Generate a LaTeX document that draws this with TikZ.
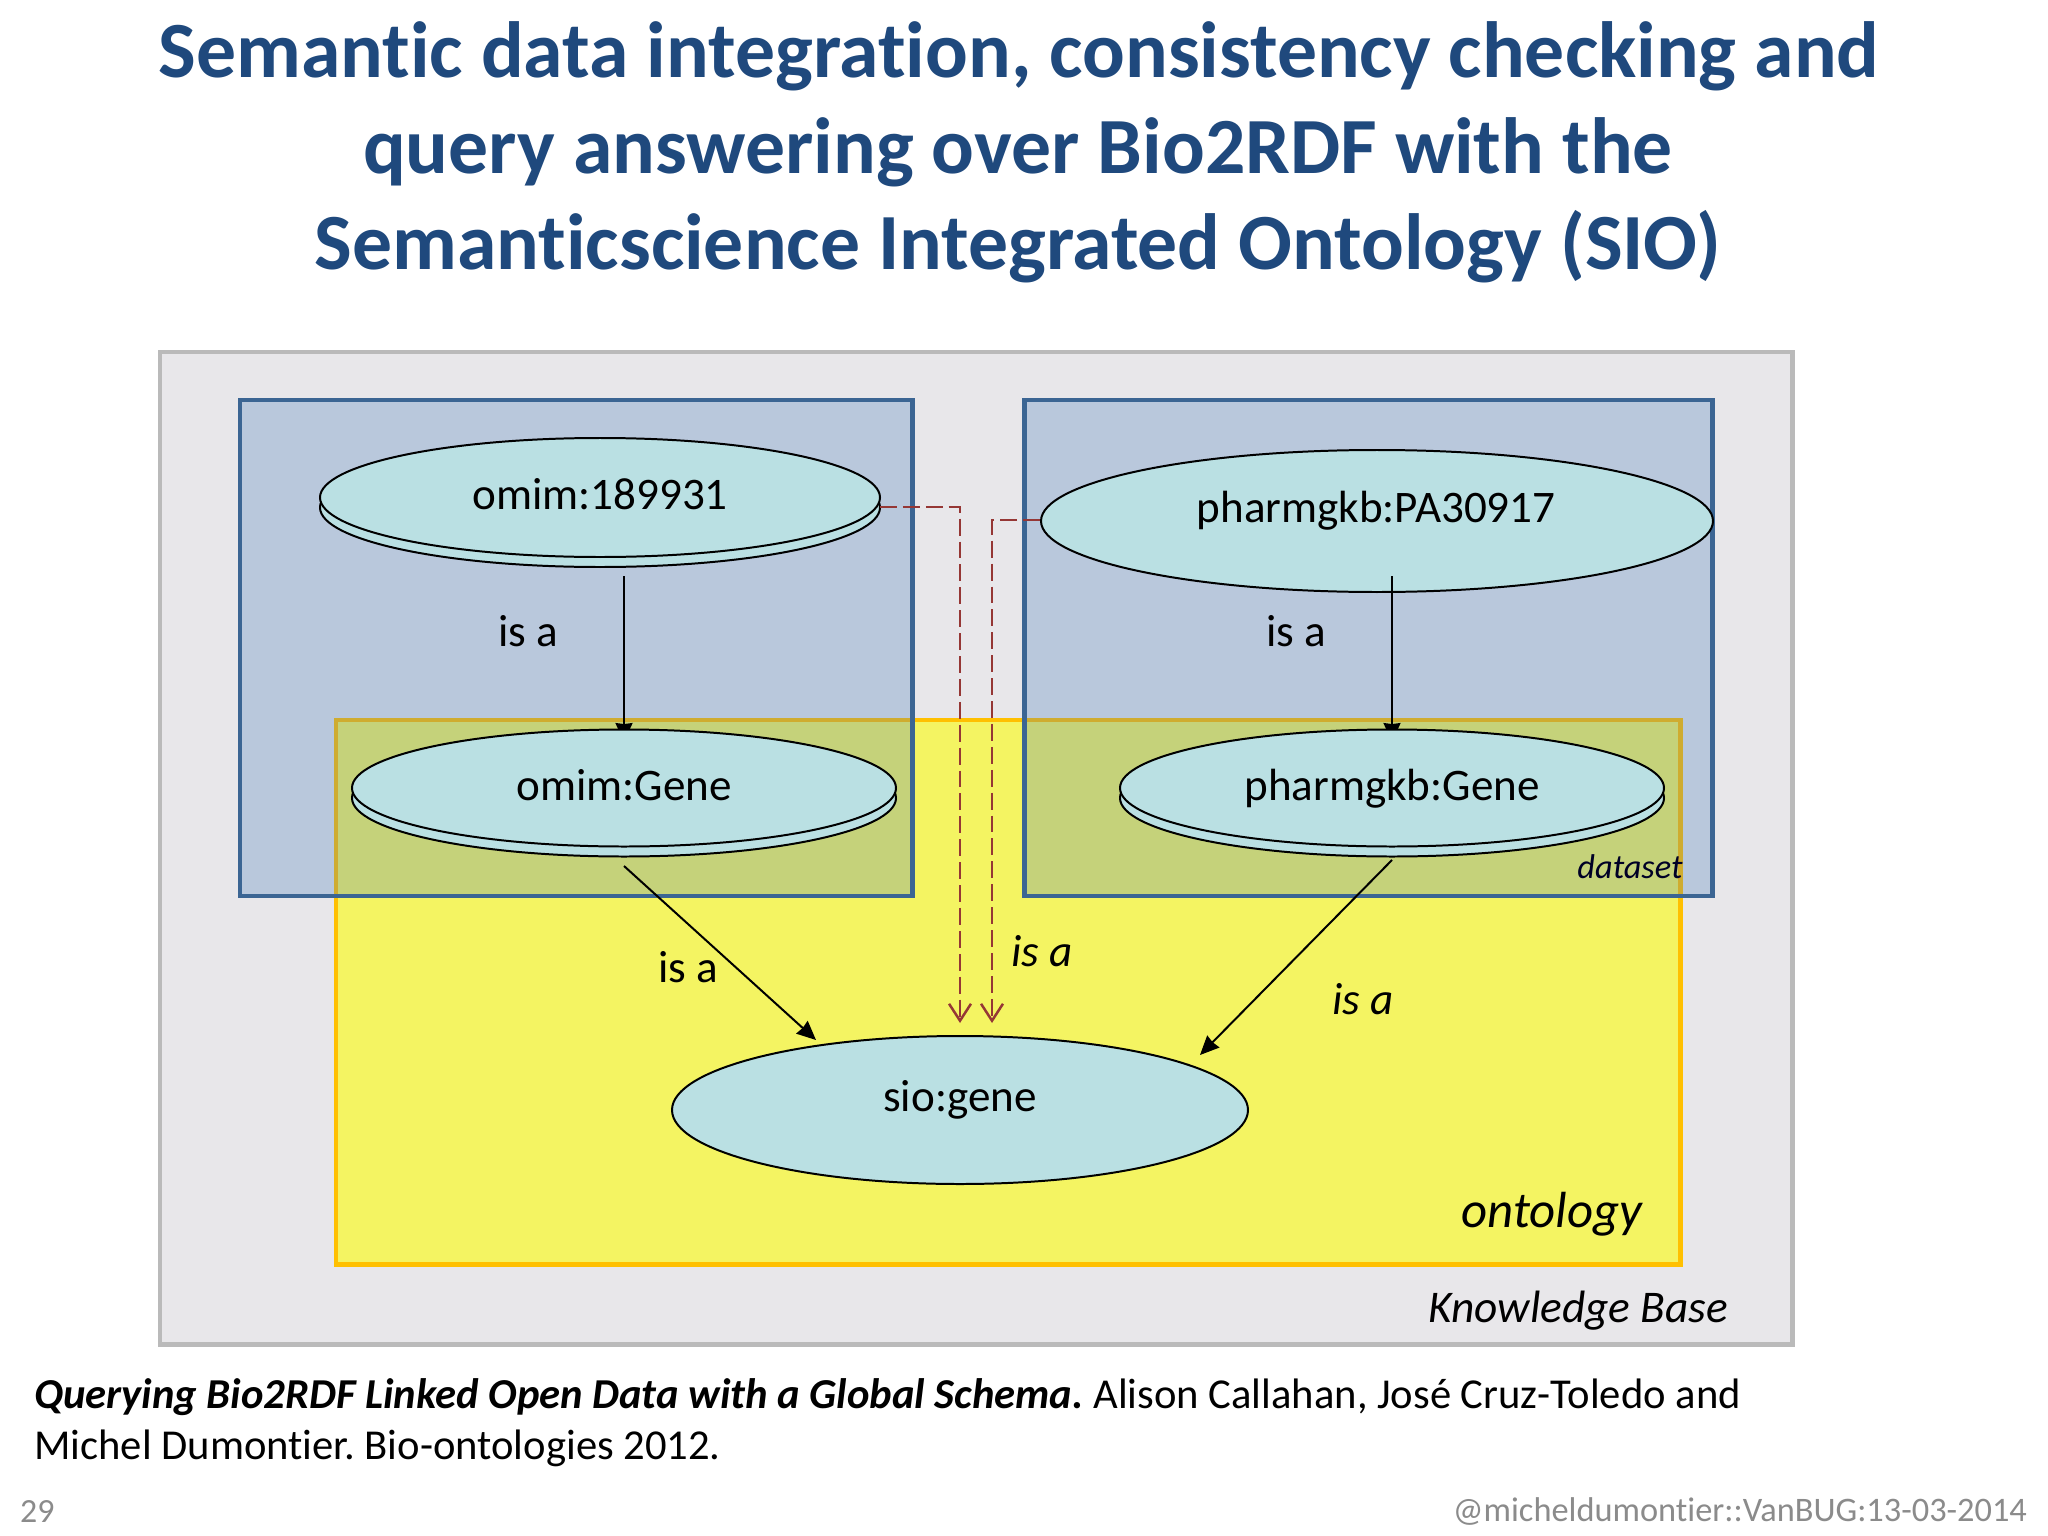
\documentclass[tikz,border=0pt]{standalone}
\usepackage{fontspec}
\setmainfont[Ligatures=NoCommon]{Carlito}
\usetikzlibrary{arrows.meta}
\definecolor{titleblue}{HTML}{1F497D}
\definecolor{kbfill}{HTML}{E8E7EA}
\definecolor{kbline}{HTML}{BABABA}
\definecolor{dsfill}{HTML}{B9C8DC}
\definecolor{dsline}{HTML}{3B6593}
\definecolor{ontfill}{HTML}{F4F462}
\definecolor{ontline}{HTML}{FFC000}
\definecolor{ontdark}{HTML}{CFAC30}
\definecolor{overlap}{HTML}{C5D27A}
\definecolor{ellfill}{HTML}{BAE0E3}
\definecolor{mapred}{HTML}{953735}
\definecolor{greytext}{HTML}{8B8B8B}
\tikzset{x=0.0353cm,y=-0.0353cm,
  lbl/.style={inner sep=0pt,font=\fontsize{45.3pt}{54pt}\selectfont},
  islbl/.style={inner sep=0pt,font=\fontsize{45.3pt}{54pt}\itshape\selectfont},
  ell/.style={draw=black,fill=ellfill,line width=2pt},
  ttl/.style={inner sep=0pt,text=titleblue,font=\fontsize{80pt}{96pt}\bfseries\selectfont},
  isa/.style={draw=black,line width=2pt,-{Stealth[length=19pt,width=17pt,inset=1pt]}},
  mapl/.style={draw=mapred,line width=2.5pt,dash pattern=on 17pt off 6pt,-{Straight Barb[length=17pt,width=22pt]}}
}
\begin{document}
\begin{tikzpicture}
\useasboundingbox (0,0) rectangle (2048,1536);
\fill[white] (0,0) rectangle (2048,1536);
\node[ttl] (t1) at (1019,56) {Semantic data integration, consistency checking and};
\node[ttl] (t2) at (1018,152) {query answering over Bio2RDF with the};
\node[ttl] (t3) at (1018,247) {Semanticscience Integrated Ontology (SIO)};
\draw[draw=kbline,fill=kbfill,line width=5pt] (160,352) rectangle (1792,1344);
\draw[draw=ontline,fill=ontfill,line width=5pt] (336,720) rectangle (1680,1264);
\fill[dsfill] (240,400) rectangle (912,896);
\fill[dsfill] (1024,400) rectangle (1712,896);
\fill[overlap] (336,720) rectangle (912,896);
\fill[overlap] (1024,720) rectangle (1680,896);
\draw[ontdark,line width=5pt] (912,720) -- (336,720) -- (336,896);
\draw[ontdark,line width=5pt] (1024,720) -- (1680,720) -- (1680,896);
\draw[dsline,line width=5pt] (240,400) rectangle (912,896);
\draw[dsline,line width=5pt] (1024,400) rectangle (1712,896);
% connectors and ellipses, in the reference's stacking order
\coordinate (a1) at (624,576);
\coordinate (a2) at (624,742);
\coordinate (b1) at (1392,576);
\coordinate (b2) at (1392,742);
\coordinate (c1) at (624,866);
\coordinate (c2) at (816,1040);
\coordinate (d1) at (1392,860);
\coordinate (d2) at (1200,1055);
\draw[ell] (600,507.5) ellipse [x radius=280,y radius=59.5];
\draw[ell] (600,497.5) ellipse [x radius=280,y radius=59.5];
\node[lbl] (n1) at (600,494) {omim:189931};
\draw[ell] (1377,521) ellipse [x radius=336,y radius=71];
\node[lbl] (n4) at (1376,511) {pharmgkb:PA30917};
\draw[isa] (a1) -- (a2);
\draw[isa] (b1) -- (b2);
\draw[ell] (624,798) ellipse [x radius=272,y radius=58.5];
\draw[ell] (624,788) ellipse [x radius=272,y radius=58.5];
\node[lbl] (n2) at (624,785) {omim:Gene};
\draw[ell] (1392,798) ellipse [x radius=272,y radius=58.5];
\draw[ell] (1392,788) ellipse [x radius=272,y radius=58.5];
\node[lbl] (n3) at (1392,789) {pharmgkb:Gene};
\draw[ell] (960,1110) ellipse [x radius=288,y radius=74];
\node[lbl] (n5) at (960,1100) {sio:gene};
\draw[isa] (c1) -- (c2);
\draw[isa] (d1) -- (d2);
\coordinate (m1) at (880,507);
\coordinate (m1b) at (960,507);
\coordinate (m1c) at (960,1023);
\coordinate (m2) at (1040,520);
\coordinate (m2b) at (992,520);
\coordinate (m2c) at (992,1023);
\draw[mapl] (m1) -- (m1b) -- (m1c);
\draw[mapl] (m2) -- (m2b) -- (m2c);
\node[lbl] (l1) at (528,631) {is a};
\node[lbl] (l2) at (1296,631) {is a};
\node[lbl] (l3) at (688,967) {is a};
\node[islbl] (l4) at (1042,951) {is a};
\node[islbl] (l5) at (1363,999) {is a};
\node[inner sep=0pt,text=black!85!blue,font=\fontsize{34.5pt}{40pt}\itshape\selectfont] (l6) at (1630,867) {dataset};
\node[inner sep=0pt,font=\fontsize{51pt}{60pt}\itshape\selectfont] (l7) at (1552,1214) {ontology};
\node[inner sep=0pt,font=\fontsize{45.5pt}{54pt}\itshape\selectfont] (l8) at (1578,1311) {Knowledge Base};
\node[anchor=west,inner sep=0pt,font=\fontsize{42.8pt}{50pt}\selectfont] (c1t) at (34,1397) {\frenchspacing\textbf{\textit{Querying Bio2RDF Linked Open Data with a Global Schema.}} Alison Callahan, José Cruz-Toledo and};
\node[anchor=west,inner sep=0pt,font=\fontsize{42.8pt}{50pt}\selectfont] (c2t) at (34,1448) {\frenchspacing Michel Dumontier. Bio-ontologies 2012.};
\node[anchor=west,inner sep=0pt,text=greytext,font=\fontsize{34pt}{40pt}\selectfont] (pg) at (20,1511) {29};
\node[anchor=east,inner sep=0pt,text=greytext,font=\fontsize{34.5pt}{40pt}\selectfont] (ft) at (2027,1511) {@micheldumontier::VanBUG:13-03-2014};
\end{tikzpicture}
\end{document}
